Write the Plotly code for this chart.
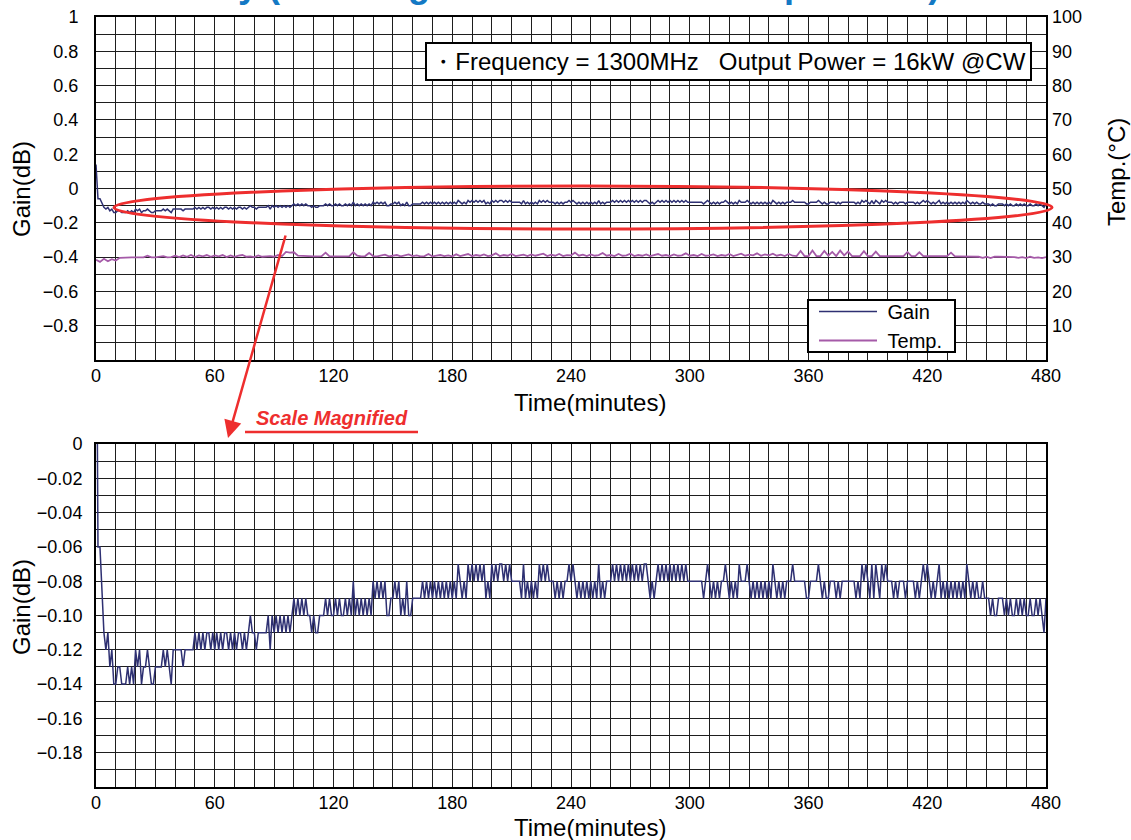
import plotly.graph_objects as go

# ---------------- data ----------------
minutes = list(range(0, 481))          # gain sampled every minute
# gain in hundredths of a dB, one row per 10 minutes
gain_hundredths = [
    14, -6, -6, -9, -11, -12, -11, -13, -12, -14,
    -14, -13, -13, -14, -14, -14, -13, -14, -13, -14,
    -12, -13, -12, -14, -13, -13, -12, -13, -14, -14,
    -13, -13, -13, -13, -12, -13, -12, -13, -14, -12,
    -12, -12, -12, -12, -13, -12, -12, -12, -12, -12,
    -11, -12, -11, -12, -11, -12, -11, -11, -12, -11,
    -12, -11, -12, -11, -12, -11, -11, -12, -11, -12,
    -11, -12, -11, -11, -12, -11, -12, -11, -10, -11,
    -11, -12, -11, -11, -11, -11, -11, -10, -12, -10,
    -11, -10, -11, -10, -11, -10, -11, -10, -11, -10,
    -9, -10, -9, -10, -9, -10, -9, -10, -10, -11,
    -10, -11, -11, -10, -10, -10, -9, -10, -9, -10,
    -10, -9, -10, -9, -10, -10, -9, -10, -9, -10,
    -8, -10, -9, -10, -9, -10, -9, -10, -9, -10,
    -8, -9, -8, -9, -8, -9, -8, -10, -10, -9,
    -9, -8, -9, -8, -10, -9, -10, -8, -10, -10,
    -9, -9, -9, -9, -9, -8, -9, -8, -9, -8,
    -9, -8, -9, -8, -9, -8, -9, -8, -9, -8,
    -9, -8, -9, -7, -8, -9, -8, -9, -7, -8,
    -7, -8, -7, -8, -7, -8, -7, -9, -8, -9,
    -7, -8, -7, -8, -7, -7, -8, -7, -8, -7,
    -8, -8, -8, -8, -8, -9, -7, -9, -8, -9,
    -8, -9, -8, -9, -7, -8, -7, -8, -7, -8,
    -8, -8, -9, -8, -9, -8, -9, -8, -8, -7,
    -8, -7, -8, -9, -8, -9, -8, -9, -8, -9,
    -8, -9, -8, -9, -7, -9, -8, -9, -8, -8,
    -8, -7, -8, -7, -8, -7, -8, -7, -8, -7,
    -8, -7, -8, -7, -8, -7, -8, -7, -7, -8,
    -9, -8, -9, -8, -7, -8, -7, -8, -7, -8,
    -7, -8, -7, -8, -7, -8, -7, -8, -7, -8,
    -8, -8, -8, -8, -8, -8, -8, -9, -8, -7,
    -8, -9, -8, -9, -8, -9, -8, -8, -7, -8,
    -9, -8, -9, -8, -9, -7, -8, -8, -8, -7,
    -8, -9, -8, -9, -8, -9, -8, -9, -8, -9,
    -8, -9, -7, -8, -9, -8, -9, -8, -9, -8,
    -8, -8, -7, -8, -8, -8, -8, -8, -8, -9,
    -9, -8, -8, -8, -8, -7, -8, -9, -8, -9,
    -9, -8, -8, -8, -9, -8, -9, -8, -8, -8,
    -8, -8, -8, -8, -9, -8, -9, -7, -8, -7,
    -8, -9, -7, -9, -7, -8, -9, -7, -8, -7,
    -8, -8, -8, -9, -8, -9, -8, -8, -8, -9,
    -8, -8, -8, -8, -9, -8, -9, -8, -7, -8,
    -7, -8, -9, -8, -9, -8, -7, -9, -8, -9,
    -8, -9, -8, -9, -8, -9, -8, -9, -8, -9,
    -7, -8, -9, -8, -9, -8, -9, -9, -8, -9,
    -9, -9, -10, -9, -10, -10, -9, -9, -9, -10,
    -9, -10, -9, -10, -10, -9, -10, -9, -10, -9,
    -10, -10, -9, -10, -10, -9, -10, -9, -10, -11,
    -9,
]
gain_db = [v / 100 for v in gain_hundredths]

temp_minutes = list(range(0, 481, 2))  # temperature sampled every 2 minutes
temp_c = [
    29.2, 28.6, 29.5, 28.8, 29.4, 29.0, 29.8, 29.9, 29.9, 29.9,
    29.9, 30.0, 29.9, 30.4, 29.9, 29.9, 30.0, 30.3, 29.9, 30.0,
    30.4, 30.0, 30.5, 30.1, 30.6, 30.0, 30.5, 30.2, 30.6, 30.1,
    30.5, 30.2, 30.6, 30.0, 30.5, 30.1, 30.4, 30.6, 30.1, 30.2,
    30.0, 30.5, 30.1, 30.2, 30.3, 30.1, 30.6, 30.3, 31.5, 31.3,
    31.4, 30.4, 30.3, 30.3, 30.2, 30.2, 30.2, 30.3, 31.3, 30.2,
    30.2, 30.3, 30.2, 30.2, 30.3, 31.4, 30.4, 30.2, 30.3, 31.2,
    30.3, 30.2, 30.4, 30.7, 30.2, 30.3, 30.6, 30.2, 30.4, 30.8,
    30.3, 30.5, 30.2, 30.3, 30.9, 30.2, 30.4, 30.6, 30.3, 30.5,
    30.2, 30.8, 30.3, 30.5, 30.9, 30.3, 30.6, 30.4, 30.8, 30.3,
    30.5, 31.1, 30.3, 30.6, 30.4, 30.9, 30.3, 30.5, 30.7, 30.3,
    30.8, 30.4, 30.6, 31.0, 30.3, 30.7, 30.4, 30.9, 30.3, 30.6,
    30.5, 31.3, 30.4, 30.7, 30.3, 30.8, 30.4, 30.6, 31.2, 30.4,
    30.6, 30.3, 30.9, 30.4, 30.5, 31.0, 30.3, 30.6, 30.4, 30.8,
    30.3, 30.5, 30.9, 30.4, 30.6, 30.3, 30.8, 30.4, 30.5, 31.1,
    30.4, 30.6, 30.3, 30.9, 30.4, 30.5, 30.8, 30.3, 30.6, 30.4,
    30.9, 30.3, 30.6, 31.0, 30.4, 30.7, 30.5, 31.1, 30.4, 30.8,
    30.5, 31.0, 30.4, 30.7, 30.3, 30.9, 30.4, 30.3, 31.8, 30.3,
    30.3, 31.9, 30.3, 30.3, 31.8, 30.4, 31.5, 30.3, 31.9, 30.5,
    31.6, 30.3, 30.3, 30.3, 31.7, 30.3, 30.3, 31.6, 30.3, 30.3,
    30.3, 30.3, 30.3, 30.3, 30.3, 31.5, 30.3, 30.3, 31.4, 30.3,
    30.3, 30.3, 30.3, 30.3, 30.3, 30.3, 31.3, 30.2, 30.2, 30.2,
    30.2, 30.2, 30.2, 30.1, 29.8, 30.1, 29.7, 30.1, 30.1, 30.1,
    30.1, 30.1, 30.0, 29.8, 30.0, 29.7, 30.1, 29.8, 29.9, 29.7,
    30.0,
]

x_ticks = [0, 60, 120, 180, 240, 300, 360, 420, 480]
top_gain_ticks = [1, 0.8, 0.6, 0.4, 0.2, 0, -0.2, -0.4, -0.6, -0.8]
top_gain_labels = ["1", "0.8", "0.6", "0.4", "0.2", "0", "−0.2", "−0.4", "−0.6", "−0.8"]
temp_ticks = [10, 20, 30, 40, 50, 60, 70, 80, 90, 100]
bottom_gain_ticks = [0, -0.02, -0.04, -0.06, -0.08, -0.10, -0.12, -0.14, -0.16, -0.18]
bottom_gain_labels = ["0", "−0.02", "−0.04", "−0.06", "−0.08", "−0.10",
                      "−0.12", "−0.14", "−0.16", "−0.18"]

# ---------------- styling ----------------
W, H = 1131, 840
L, R, T, B = 96, 85, 17, 53
PW, PH = W - L - R, H - T - B


def pxx(x):
    return (x - L) / PW


def pxy(y):
    return 1 - (y - T) / PH


FONT = "Liberation Sans, Arial, Helvetica, sans-serif"
GAIN_C = "#2e3072"
TEMP_C = "#a55aa8"
RED = "#ee2e2e"
GRID = "#1e1e1e"

fig = go.Figure()
fig.add_trace(go.Scatter(x=minutes, y=gain_db, mode="lines", name="\u00a0Gain",
                         xaxis="x", yaxis="y", line=dict(color=GAIN_C, width=1.5)))
fig.add_trace(go.Scatter(x=temp_minutes, y=temp_c, mode="lines", name="\u00a0Temp.",
                         xaxis="x", yaxis="y2", line=dict(color=TEMP_C, width=1.8)))
fig.add_trace(go.Scatter(x=minutes, y=gain_db, mode="lines", name="Gain",
                         xaxis="x2", yaxis="y3", showlegend=False,
                         line=dict(color=GAIN_C, width=1.5)))

tickfont = dict(family=FONT, size=18, color="black")
common_x = dict(range=[0, 480], tickmode="array", tickvals=x_ticks, ticktext=[str(v) for v in x_ticks],
                showgrid=True, gridcolor=GRID, gridwidth=1, zeroline=False,
                showline=True, linecolor="black", linewidth=2, mirror=True,
                ticks="", ticklen=0, tickfont=tickfont, ticklabelstandoff=-2, automargin=False,
                minor=dict(tick0=0, dtick=10, showgrid=True, gridcolor=GRID, gridwidth=1, ticks=""))

top_dom = [pxy(360), 1]
bot_dom = [0, pxy(444)]

fig.update_layout(
    width=W, height=H,
    margin=dict(l=L, r=R, t=T, b=B, autoexpand=False),
    paper_bgcolor="white", plot_bgcolor="white",
    font=dict(family=FONT, color="black"),
    xaxis=dict(domain=[0, 1], anchor="y", **common_x),
    xaxis2=dict(domain=[0, 1], anchor="y3", **common_x),
    yaxis=dict(domain=top_dom, range=[-1, 1], tickmode="array", tickvals=top_gain_ticks,
               ticktext=top_gain_labels, showgrid=True, gridcolor=GRID, gridwidth=1,
               zeroline=False, showline=True, linecolor="black", linewidth=2, mirror=True,
               ticks="", ticklen=0, tickfont=tickfont, ticklabelstandoff=12, automargin=False,
               minor=dict(tick0=0, dtick=0.1, showgrid=True, gridcolor=GRID, gridwidth=1, ticks="")),
    yaxis2=dict(overlaying="y", side="right", anchor="x", range=[0, 100], tickmode="array",
                tickvals=temp_ticks, ticktext=[str(v) for v in temp_ticks], showgrid=False,
                zeroline=False, showline=False, ticks="", ticklen=0, tickfont=tickfont,
                ticklabelstandoff=5, automargin=False),
    yaxis3=dict(domain=bot_dom, anchor="x2", range=[-0.2, 0], tickmode="array",
                tickvals=bottom_gain_ticks, ticktext=bottom_gain_labels, showgrid=True,
                gridcolor=GRID, gridwidth=1, zeroline=False, showline=True, linecolor="black",
                linewidth=2, mirror=True, ticks="", ticklen=0, tickfont=tickfont,
                ticklabelstandoff=8, automargin=False,
                minor=dict(tick0=0, dtick=0.01, showgrid=True, gridcolor=GRID, gridwidth=1, ticks="")),
    legend=dict(x=pxx(814), y=pxy(292), xanchor="left", yanchor="top",
                bgcolor="rgba(0,0,0,0)", borderwidth=0,
                font=dict(family=FONT, size=20, color="black"),
                itemwidth=58, tracegroupgap=0),
    showlegend=True,
)

ann = []
title_font = dict(family=FONT, size=24, color="black")
# axis titles
ann.append(dict(text="Time(minutes)", x=pxx(590), y=pxy(403), xref="paper", yref="paper",
                showarrow=False, font=title_font, xanchor="center", yanchor="middle"))
ann.append(dict(text="Time(minutes)", x=pxx(590), y=pxy(827), xref="paper", yref="paper",
                showarrow=False, font=title_font, xanchor="center", yanchor="middle"))
ann.append(dict(text="Gain(dB)", x=pxx(22), y=pxy(189), xref="paper", yref="paper",
                showarrow=False, font=title_font, textangle=-90, xanchor="center", yanchor="middle"))
ann.append(dict(text="Gain(dB)", x=pxx(21), y=pxy(607), xref="paper", yref="paper",
                showarrow=False, font=title_font, textangle=-90, xanchor="center", yanchor="middle"))
ann.append(dict(text="Temp.(°C)", x=pxx(1116), y=pxy(172), xref="paper", yref="paper",
                showarrow=False, font=title_font, textangle=-90, xanchor="center", yanchor="middle"))
# condition box
ann.append(dict(text="・Frequency = 1300MHz\u00a0\u00a0\u00a0Output Power = 16kW @CW",
                x=pxx(728.5), y=pxy(61.5), xref="paper", yref="paper", showarrow=False,
                xanchor="center", yanchor="middle", font=dict(family=FONT, size=24, color="black"),
                width=599, height=31, align="center",
                bgcolor="white", bordercolor="black", borderwidth=2, borderpad=2))
# cut-off title at the very top
ann.append(dict(text="<b>Gain Stability (Drift of gain and the case temperature)</b>",
                x=pxx(484), y=pxy(-15.5), xref="paper", yref="paper", showarrow=False,
                xanchor="center", yanchor="middle",
                font=dict(family=FONT, size=36, color="#1479c4")))
# magnification arrow and label
ann.append(dict(text="", x=pxx(228), y=pxy(438), xref="paper", yref="paper",
                showarrow=True, ax=58, ay=-204, axref="pixel", ayref="pixel",
                arrowcolor=RED, arrowwidth=2.5, arrowhead=2, arrowsize=1.4, standoff=0))
ann.append(dict(text="<b><i>Scale Magnified</i></b>", x=pxx(332), y=pxy(418), xref="paper", yref="paper",
                showarrow=False, xanchor="center", yanchor="middle",
                font=dict(family=FONT, size=20, color=RED)))
fig.update_layout(annotations=ann)

# legend frame
fig.add_shape(type="rect", xref="paper", yref="paper", x0=pxx(808), x1=pxx(955),
              y0=pxy(352), y1=pxy(300), line=dict(color="black", width=2),
              fillcolor="white", layer="above")
fig.add_shape(type="line", xref="paper", yref="paper", x0=pxx(245), x1=pxx(418),
              y0=pxy(432), y1=pxy(432), line=dict(color=RED, width=2.5))
fig.add_shape(type="circle", xref="paper", yref="paper", x0=pxx(114), x1=pxx(1052),
              y0=pxy(229), y1=pxy(186), line=dict(color=RED, width=3), layer="above")

fig.write_html("out.html")
